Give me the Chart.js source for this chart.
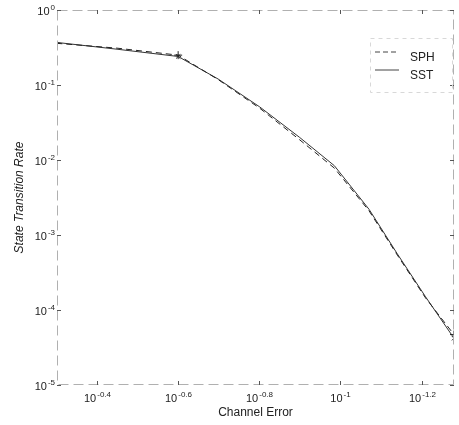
<!DOCTYPE html>
<html><head><meta charset="utf-8">
<script src="https://cdn.jsdelivr.net/npm/chart.js@4/dist/chart.umd.min.js"></script>
<style>html,body{margin:0;padding:0;background:#fff}#wrap{width:459px;height:425px;position:relative}</style>
</head><body><div id="wrap"><canvas id="c"></canvas></div>
<script>
// ---- data ----
const channelError = [0.501, 0.355, 0.251, 0.2, 0.158, 0.126, 0.1035, 0.085, 0.0724, 0.0617, 0.0525];
const rateSPH = [0.36, 0.31, 0.25, 0.118, 0.049, 0.0186, 0.0078, 0.0021, 0.00054, 0.000145, 0.000047];
const rateSST = [0.37, 0.30, 0.24, 0.12, 0.051, 0.020, 0.0084, 0.0022, 0.00056, 0.00015, 0.000042];
const seriesNames = ['SPH', 'SST'];
const xTickExponents = ['-0.4', '-0.6', '-0.8', '-1', '-1.2'];
const yTickExponents = ['0', '-1', '-2', '-3', '-4', '-5'];
const xTitle = 'Channel Error';
const yTitle = 'State Transition Rate';

const FONT = '"Liberation Sans", Arial, sans-serif';

function pts(ys){ return channelError.map((x,i)=>({x:x,y:ys[i]})); }

function drawPow(ctx, exp, x, y, align){
  ctx.save();
  ctx.textBaseline = 'alphabetic';
  ctx.font = '11px ' + FONT;
  const wb = ctx.measureText('10').width;
  ctx.font = '8px ' + FONT;
  const we = ctx.measureText(exp).width;
  const total = wb + 1 + we;
  let sx = align === 'right' ? x - total : x - total/2;
  ctx.fillStyle = '#222';
  ctx.font = '11px ' + FONT;
  ctx.textAlign = 'left';
  ctx.fillText('10', sx, y);
  ctx.font = '8px ' + FONT;
  ctx.fillText(exp, sx + wb + 1, y - 5);
  ctx.restore();
}

const framePlugin = {
  id: 'frame',
  afterDraw(chart){
    const {ctx, chartArea:a, scales} = chart;
    const xs = scales.x, ys = scales.y;
    ctx.save();
    // box
    ctx.strokeStyle = '#b0b0b0';
    ctx.lineWidth = 1;
    ctx.setLineDash([10,5]);
    ctx.strokeRect(a.left+0.5, a.top+0.5, a.right-a.left-1, a.bottom-a.top-1);
    ctx.setLineDash([]);
    ctx.strokeStyle = '#555';
    // y ticks
    yTickExponents.forEach(e=>{
      const py = Math.round(ys.getPixelForValue(Math.pow(10, parseFloat(e)))) + 0.5;
      ctx.beginPath();
      ctx.moveTo(a.left, py); ctx.lineTo(a.left+4, py);
      ctx.moveTo(a.right, py); ctx.lineTo(a.right-4, py);
      ctx.stroke();
      drawPow(ctx, e, a.left-2, py+4, 'right');
    });
    // x ticks
    xTickExponents.forEach(e=>{
      const px = Math.round(xs.getPixelForValue(Math.pow(10, parseFloat(e)))) + 0.5;
      ctx.beginPath();
      ctx.moveTo(px, a.bottom); ctx.lineTo(px, a.bottom-4);
      ctx.moveTo(px, a.top); ctx.lineTo(px, a.top+4);
      ctx.stroke();
      drawPow(ctx, e, px, a.bottom+17, 'center');
    });
    // titles
    ctx.fillStyle = '#222';
    ctx.font = '12px ' + FONT;
    ctx.textAlign = 'center';
    ctx.textBaseline = 'middle';
    ctx.fillText(xTitle, (a.left+a.right)/2, a.bottom+28);
    ctx.save();
    ctx.translate(20, (a.top+a.bottom)/2);
    ctx.rotate(-Math.PI/2);
    ctx.font = 'italic 12px ' + FONT;
    ctx.fillText(yTitle, 0, 0);
    ctx.restore();
    // legend
    const lx = 373, rows = [58, 76], dashes = [[5,3],[]];
    ctx.strokeStyle = '#d8d8d8';
    ctx.setLineDash([4,4]);
    ctx.strokeRect(lx-2.5, 38.5, a.right - lx + 1, 54);
    ctx.setLineDash([]);
    seriesNames.forEach((n,i)=>{
      ctx.strokeStyle = '#444';
      ctx.setLineDash(dashes[i]);
      ctx.beginPath();
      ctx.moveTo(lx+2, rows[i]-6); ctx.lineTo(lx+26, rows[i]-6);
      ctx.stroke();
      ctx.setLineDash([]);
      ctx.fillStyle = '#222';
      ctx.font = '12px ' + FONT;
      ctx.textAlign = 'left';
      ctx.textBaseline = 'middle';
      ctx.fillText(n, 410, rows[i]);
    });
    ctx.restore();
  }
};

const lastIdx = channelError.length - 1;
new Chart(document.getElementById('c'), {
  type: 'line',
  data: {
    datasets: [
      { label: seriesNames[0], data: pts(rateSPH), borderColor: '#222', borderWidth: 1, borderDash: [6,4],
        pointStyle: 'cross', pointBorderColor: '#222', pointBorderWidth: 1,
        pointRadius: c => (c.dataIndex===0||c.dataIndex===2||c.dataIndex===lastIdx) ? 4 : 0, tension: 0 },
      { label: seriesNames[1], data: pts(rateSST), borderColor: '#333', borderWidth: 1,
        pointStyle: 'crossRot', pointBorderColor: '#333', pointBorderWidth: 1,
        pointRadius: c => (c.dataIndex===2||c.dataIndex===lastIdx) ? 3 : 0, tension: 0 }
    ]
  },
  options: {
    responsive: true, maintainAspectRatio: false, animation: false,
    layout: { padding: { left: 57, top: 10, right: 1, bottom: 40 } },
    plugins: { legend: { display: false }, tooltip: { enabled: false } },
    scales: {
      x: { type: 'logarithmic', reverse: true, display: false, min: 0.0525, max: 0.499 },
      y: { type: 'logarithmic', display: false, min: 1e-5, max: 1 }
    }
  },
  plugins: [framePlugin]
});
</script></body></html>
